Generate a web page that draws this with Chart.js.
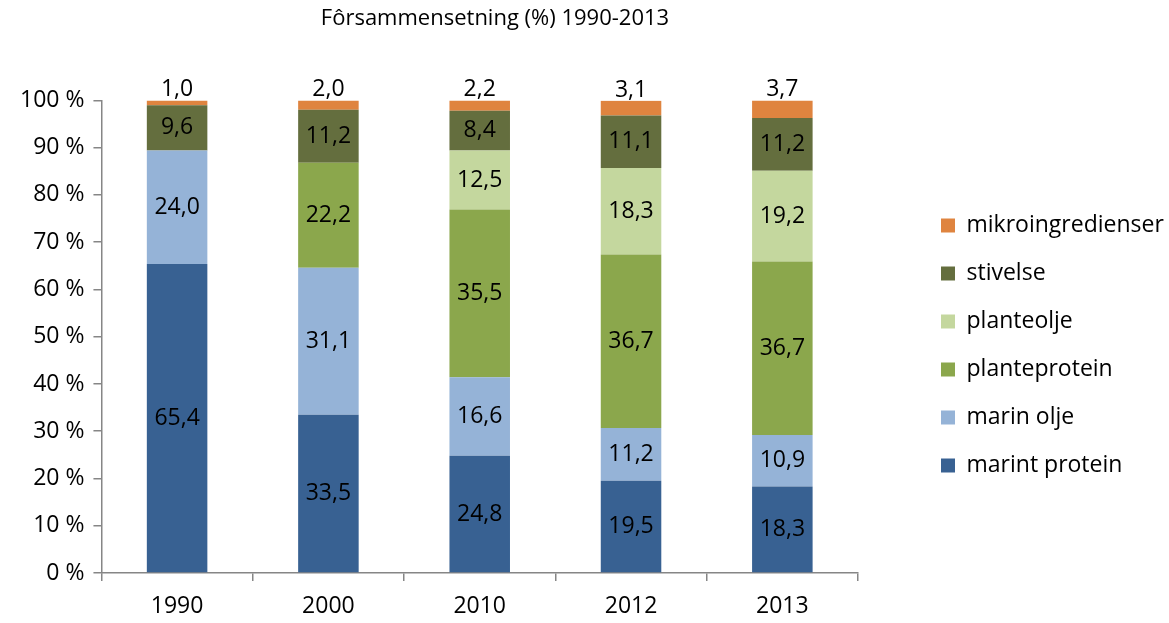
<!DOCTYPE html>
<html>
<head>
<meta charset="utf-8">
<script src="https://cdn.jsdelivr.net/npm/chart.js@4"></script>
<style>
  html, body { margin: 0; padding: 0; background: #fff; }
  #wrap { width: 1169px; height: 623px; }
</style>
</head>
<body>
<div id="wrap"><canvas id="myChart"></canvas></div>
<script>
// data
var years = ['1990', '2000', '2010', '2012', '2013'];
var marintProtein = [65.4, 33.5, 24.8, 19.5, 18.3];
var marinOlje = [24.0, 31.1, 16.6, 11.2, 10.9];
var planteprotein = [0, 22.2, 35.5, 36.7, 36.7];
var planteolje = [0, 0, 12.5, 18.3, 19.2];
var stivelse = [9.6, 11.2, 8.4, 11.1, 11.2];
var mikroingredienser = [1.0, 2.0, 2.2, 3.1, 3.7];

var FONT = '"Open Sans", Lato, sans-serif';
var axisGray = '#868686';

function fmt(v) {
    return v.toFixed(1).replace('.', ',');
}

// value labels inside the segments, the top series above the bar
var valueLabels = {
    id: 'valueLabels',
    afterDatasetsDraw: function (chart) {
        var ctx = chart.ctx;
        ctx.save();
        ctx.font = '23px ' + FONT;
        ctx.fillStyle = '#000';
        ctx.textAlign = 'center';
        var last = chart.data.datasets.length - 1;
        chart.data.datasets.forEach(function (ds, i) {
            var meta = chart.getDatasetMeta(i);
            meta.data.forEach(function (bar, j) {
                var v = ds.data[j];
                if (!v) return;
                if (i === last) {
                    ctx.textBaseline = 'bottom';
                    ctx.fillText(fmt(v), bar.x, bar.y + 1);
                } else {
                    ctx.textBaseline = 'middle';
                    ctx.fillText(fmt(v), bar.x, (bar.y + bar.base) / 2);
                }
            });
        });
        ctx.restore();
    }
};

// legend: wider box so the plot ends where the original does, items moved right;
// title centred over the left part like the original
var boxShift = {
    id: 'boxShift',
    afterInit: function (chart) {
        var lg = chart.legend;
        var fit = lg.fit;
        lg.fit = function () {
            fit.call(this);
            this.width = 311;
        };
    },
    afterLayout: function (chart) {
        var lg = chart.legend;
        lg.left += 58;
        lg.right += 58;
        lg.top += 34;
        lg.bottom += 34;
        var t = chart.titleBlock;
        if (t) {
            t.left -= 95;
            t.right -= 95;
        }
    }
};

var ctx = document.getElementById('myChart').getContext('2d');
var chart = new Chart(ctx, {
    type: 'bar',
    data: {
        labels: years,
        datasets: [
            { label: 'marint protein', data: marintProtein, backgroundColor: '#386192' },
            { label: 'marin olje', data: marinOlje, backgroundColor: '#95B3D7' },
            { label: 'planteprotein', data: planteprotein, backgroundColor: '#8BA74C' },
            { label: 'planteolje', data: planteolje, backgroundColor: '#C4D79E' },
            { label: 'stivelse', data: stivelse, backgroundColor: '#646E3E' },
            { label: 'mikroingredienser', data: mikroingredienser, backgroundColor: '#DF843F' }
        ]
    },
    options: {
        responsive: true,
        maintainAspectRatio: false,
        animation: false,
        layout: { padding: { left: 11, top: 0, right: 0, bottom: 0 } },
        datasets: {
            bar: { categoryPercentage: 1.0, barPercentage: 0.4 }
        },
        plugins: {
            title: {
                display: true,
                text: 'Fôrsammensetning (%) 1990-2013',
                color: '#000',
                font: { family: FONT, size: 22, weight: 'normal' },
                padding: { top: 6, bottom: 68 }
            },
            legend: {
                position: 'right',
                reverse: true,
                labels: {
                    color: '#000',
                    font: { family: FONT, size: 23 },
                    boxWidth: 14,
                    boxHeight: 14,
                    padding: 25
                }
            },
            tooltip: { enabled: false }
        },
        scales: {
            x: {
                stacked: true,
                afterFit: function (scale) { scale.height -= 9; },
                border: { color: axisGray, width: 1.5 },
                grid: { drawOnChartArea: false, drawTicks: true, tickLength: 8, color: axisGray, lineWidth: 1.5 },
                ticks: { color: '#000', font: { family: FONT, size: 23, lineHeight: 1.0 }, padding: 14 }
            },
            y: {
                stacked: true,
                min: 0,
                max: 100,
                border: { color: axisGray, width: 1.5 },
                grid: { drawOnChartArea: false, drawTicks: true, tickLength: 8, color: axisGray, lineWidth: 1.5 },
                ticks: {
                    stepSize: 10,
                    color: '#000',
                    font: { family: FONT, size: 23 },
                    padding: 9,
                    callback: function (v) { return v + ' %'; }
                }
            }
        }
    },
    plugins: [valueLabels, boxShift]
});
</script>
</body>
</html>
